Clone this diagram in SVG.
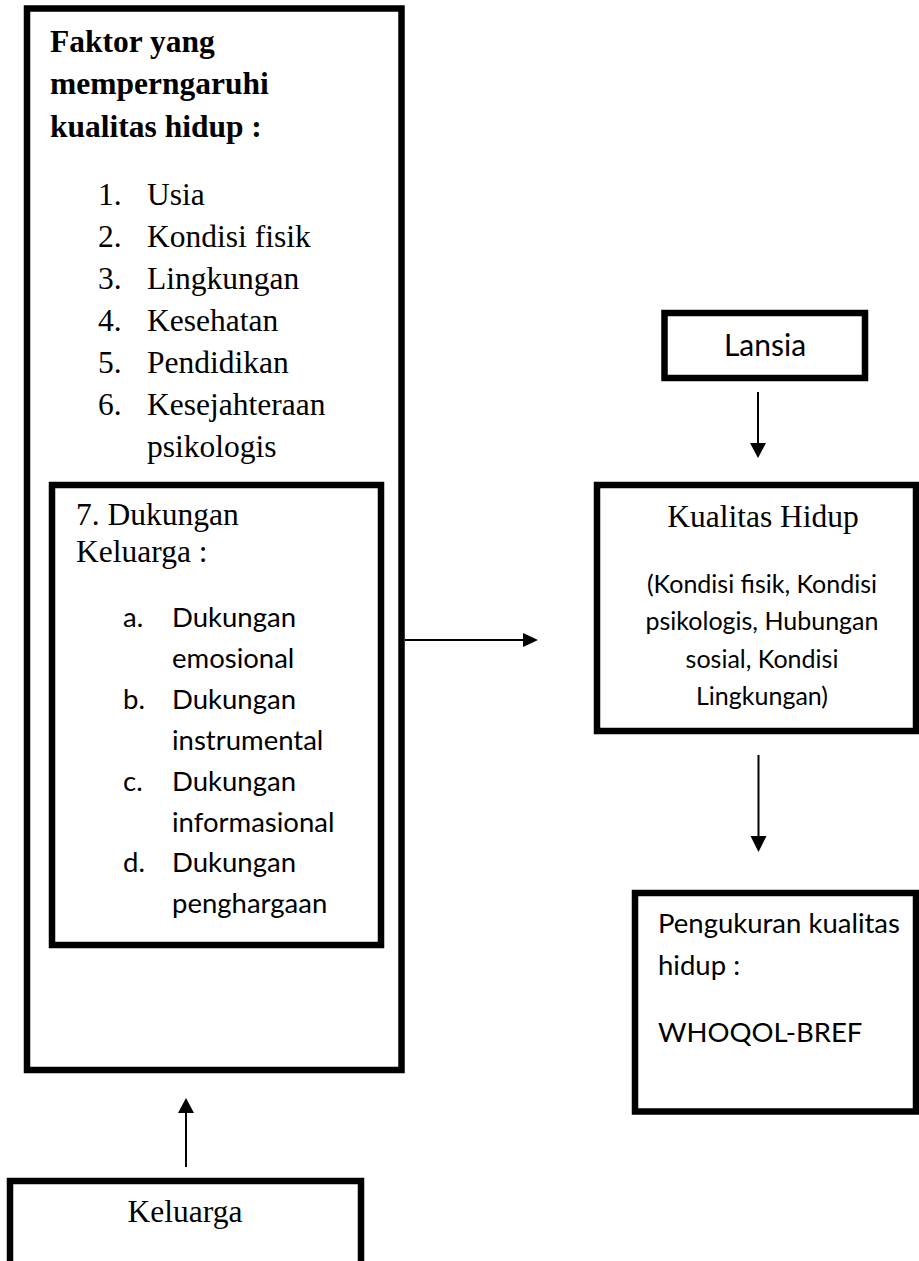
<svg xmlns="http://www.w3.org/2000/svg" width="919" height="1261" viewBox="0 0 919 1261">
<style>
.box{fill:none;stroke:#000;stroke-width:6.5}
.ln{stroke:#000;stroke-width:2;fill:none}
.hd{fill:#000;stroke:none}
.tm{font-family:"Liberation Serif","Times New Roman",serif;font-size:31.5px;fill:#000}
.tb{font-family:"Liberation Serif","Times New Roman",serif;font-size:31.5px;font-weight:bold;fill:#000}
.cb{font-family:Lato,"Open Sans",sans-serif;font-size:27.5px;fill:#000}
.cs{font-family:Lato,"Open Sans",sans-serif;font-size:25px;fill:#000}
.mid{text-anchor:middle}
</style>
<rect width="919" height="1261" fill="#fff"/>
<g id="faktor">
<rect class="box" x="27" y="8.5" width="374.5" height="1061.5"/>
<text class="tb" x="50" y="52">Faktor yang</text>
<text class="tb" x="50" y="94">memperngaruhi</text>
<text class="tb" x="50" y="137">kualitas hidup :</text>
<text class="tm" x="98" y="205">1.</text><text class="tm" x="147" y="205">Usia</text>
<text class="tm" x="98" y="247">2.</text><text class="tm" x="147" y="247">Kondisi fisik</text>
<text class="tm" x="98" y="289">3.</text><text class="tm" x="147" y="289">Lingkungan</text>
<text class="tm" x="98" y="331">4.</text><text class="tm" x="147" y="331">Kesehatan</text>
<text class="tm" x="98" y="373">5.</text><text class="tm" x="147" y="373">Pendidikan</text>
<text class="tm" x="98" y="415">6.</text><text class="tm" x="147" y="415">Kesejahteraan</text>
<text class="tm" x="147" y="457">psikologis</text>
</g>
<g id="dukungan">
<rect class="box" x="52" y="485" width="329" height="460"/>
<text class="tm" x="76" y="525">7. Dukungan</text>
<text class="tm" x="76" y="562">Keluarga :</text>
<text class="cb" x="123" y="627">a.</text><text class="cb" x="172" y="627">Dukungan</text>
<text class="cb" x="172" y="668">emosional</text>
<text class="cb" x="123" y="709">b.</text><text class="cb" x="172" y="709">Dukungan</text>
<text class="cb" x="172" y="750">instrumental</text>
<text class="cb" x="123" y="791">c.</text><text class="cb" x="172" y="791">Dukungan</text>
<text class="cb" x="172" y="832">informasional</text>
<text class="cb" x="123" y="872">d.</text><text class="cb" x="172" y="872">Dukungan</text>
<text class="cb" x="172" y="913">penghargaan</text>
</g>
<g id="lansia">
<rect class="box" x="664.5" y="313" width="200.5" height="65"/>
<text class="cb mid" x="765" y="356" style="font-size:30px">Lansia</text>
</g>
<g id="kualitas">
<rect class="box" x="597" y="485" width="319" height="246"/>
<text class="tm mid" x="763" y="527">Kualitas Hidup</text>
<text class="cs mid" x="762" y="593">(Kondisi fisik, Kondisi</text>
<text class="cs mid" x="762" y="630">psikologis, Hubungan</text>
<text class="cs mid" x="762" y="668">sosial, Kondisi</text>
<text class="cs mid" x="762" y="705">Lingkungan)</text>
</g>
<g id="pengukuran">
<rect class="box" x="635" y="893" width="281" height="218.5"/>
<text class="cb" x="658" y="933">Pengukuran kualitas</text>
<text class="cb" x="658" y="975">hidup :</text>
<text class="cb" x="658" y="1042">WHOQOL-BREF</text>
</g>
<g id="keluarga">
<rect class="box" x="10" y="1181" width="351" height="120"/>
<text class="tm mid" x="185" y="1222">Keluarga</text>
</g>
<g id="connectors">
<line class="ln" x1="758" y1="392" x2="758" y2="445"/>
<polygon class="hd" points="750,443 766,443 758,458"/>
<line class="ln" x1="758.5" y1="755" x2="758.5" y2="838"/>
<polygon class="hd" points="750.5,836 766.5,836 758.5,852"/>
<line class="ln" x1="405" y1="640" x2="525" y2="640"/>
<polygon class="hd" points="523,633 523,647 538,640"/>
<line class="ln" x1="186" y1="1167" x2="186" y2="1111"/>
<polygon class="hd" points="178,1113 194,1113 186,1098"/>
</g>
</svg>
